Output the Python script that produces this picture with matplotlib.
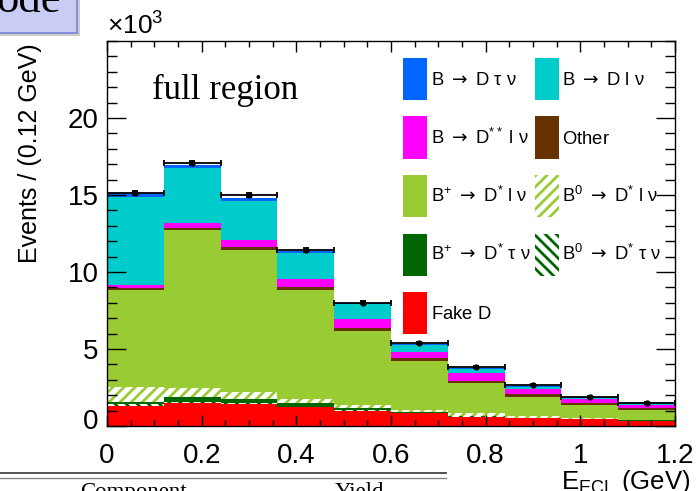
import numpy as np
import matplotlib
matplotlib.use("Agg")
import matplotlib.pyplot as plt
from matplotlib.patches import Rectangle
from matplotlib.lines import Line2D
from matplotlib.transforms import ScaledTranslation

plt.rcParams["font.family"] = ["Liberation Sans", "DejaVu Sans"]
plt.rcParams["mathtext.fontset"] = "custom"
plt.rcParams["mathtext.rm"] = "Liberation Sans"
plt.rcParams["mathtext.it"] = "Liberation Sans:italic"
plt.rcParams["mathtext.bf"] = "Liberation Sans:bold"
plt.rcParams["mathtext.sf"] = "DejaVu Sans"
plt.rcParams["hatch.linewidth"] = 2.0

# E_ECL binning: 10 bins of 0.12 GeV, yields in units of 10^3 events
edges = np.linspace(0.0, 1.2, 11)

fake_d = [1.32, 1.51, 1.43, 1.21, 1.00, 0.82, 0.60, 0.50, 0.43, 0.34]
b0_dstau = [0.08, 0.06, 0.06, 0.05, 0.04, 0.03, 0.02, 0.02, 0.01, 0.01]
bp_dstau = [0.16, 0.33, 0.28, 0.25, 0.10, 0.05, 0.04, 0.02, 0.01, 0.01]
b0_dslnu = [0.99, 0.55, 0.42, 0.24, 0.24, 0.14, 0.16, 0.08, 0.05, 0.04]
bp_dslnu = [6.28, 10.28, 9.21, 7.06, 4.81, 3.20, 1.95, 1.28, 0.86, 0.64]
other = [0.15, 0.15, 0.22, 0.19, 0.19, 0.15, 0.17, 0.16, 0.11, 0.11]
dss_lnu = [0.20, 0.32, 0.46, 0.53, 0.57, 0.43, 0.52, 0.32, 0.26, 0.21]
d_lnu = [5.67, 3.53, 2.55, 1.68, 0.95, 0.44, 0.22, 0.17, 0.11, 0.15]
d_taunu = [0.25, 0.25, 0.16, 0.13, 0.07, 0.07, 0.09, 0.05, 0.03, 0.03]

data = [15.13, 17.05, 15.02, 11.43, 8.00, 5.41, 3.81, 2.69, 1.89, 1.50]
data_err = [0.12, 0.13, 0.12, 0.11, 0.09, 0.07, 0.06, 0.05, 0.04, 0.04]

TO = r"\ \mathsf{\rightarrow}\ "
# stack order, bottom to top: (values, label, colour, hatch)
stack = [
    (fake_d, r"$\mathrm{Fake\ D}$", "#ff0000", None),
    (b0_dstau, r"$\mathrm{B}^{0}" + TO + r"\mathrm{D}^{*}\ \mathrm{τ}\ \mathrm{ν}$", "#006600", "\\\\\\"),
    (bp_dstau, r"$\mathrm{B}^{+}" + TO + r"\mathrm{D}^{*}\ \mathrm{τ}\ \mathrm{ν}$", "#006600", None),
    (b0_dslnu, r"$\mathrm{B}^{0}" + TO + r"\mathrm{D}^{*}\ \mathrm{l}\ \mathrm{ν}$", "#99cc33", "///"),
    (bp_dslnu, r"$\mathrm{B}^{+}" + TO + r"\mathrm{D}^{*}\ \mathrm{l}\ \mathrm{ν}$", "#99cc33", None),
    (other, r"$\mathrm{Other}$", "#663300", None),
    (dss_lnu, r"$\mathrm{B}" + TO + r"\mathrm{D}^{**}\ \mathrm{l}\ \mathrm{ν}$", "#ff00ff", None),
    (d_lnu, r"$\mathrm{B}" + TO + r"\mathrm{D}\ \mathrm{l}\ \mathrm{ν}$", "#00cccc", None),
    (d_taunu, r"$\mathrm{B}" + TO + r"\mathrm{D}\ \mathrm{τ}\ \mathrm{ν}$", "#0066ff", None),
]

fig = plt.figure(figsize=(6.98, 4.91), dpi=100)
W, H = 698.0, 491.0
ax = fig.add_axes([107 / W, 1 - 426 / H, 568 / W, 385 / H])

bottom = np.zeros(len(edges) - 1)
for vals, label, col, hatch in stack:
    vals = np.asarray(vals)
    if hatch:
        ax.bar(edges[:-1], vals, width=0.12, align="edge", bottom=bottom,
               facecolor="white", edgecolor=col, hatch=hatch, linewidth=0)
    else:
        ax.bar(edges[:-1], vals, width=0.12, align="edge", bottom=bottom,
               color=col, linewidth=0)
    bottom = bottom + vals

centers = 0.5 * (edges[:-1] + edges[1:])
ax.errorbar(centers, data, xerr=0.06, yerr=data_err, fmt="o", ms=3.5,
            color="black", ecolor="black", elinewidth=1.3, capsize=2.5,
            capthick=1.3, zorder=5)

ax.set_xlim(0, 1.2)
ax.set_ylim(0, 25)
ax.set_xticks(np.arange(0, 1.21, 0.2))
ax.set_xticklabels(["0", "0.2", "0.4", "0.6", "0.8", "1", "1.2"])
ax.set_xticks(np.arange(0, 1.201, 0.05), minor=True)
ax.set_yticks([0, 5, 10, 15, 20])
ax.set_yticks(np.arange(0, 25.1, 1), minor=True)
ax.tick_params(axis="both", which="both", direction="in", top=True, right=True,
               labelsize=20, width=1.0, color="black")
ax.tick_params(axis="x", which="major", length=8, pad=12)
ax.tick_params(axis="x", which="minor", length=4)
ax.tick_params(axis="y", which="major", length=14, pad=6)
ax.tick_params(axis="y", which="minor", length=7)
for s in ax.spines.values():
    s.set_linewidth(1.0)
# the "0" on the y axis sits a little above the axis line
lab0 = ax.get_yticklabels()[0]
lab0.set_transform(lab0.get_transform() + ScaledTranslation(0, 0.07, fig.dpi_scale_trans))


def px(x, y):
    """pixel position in the figure -> axes fraction"""
    return (x - 107) / 568, (426 - y) / 385


# two-column key with tall boxes
key_cols = [
    [stack[8], stack[6], stack[4], stack[2], stack[0]],
    [stack[7], stack[5], stack[3], stack[1]],
]
for (bx, tx), entries in zip([(403, 431), (535, 562)], key_cols):
    for i, (_, label, col, hatch) in enumerate(entries):
        top = 58 + 58.5 * i
        x0, y0 = px(bx, top + 42)
        w, h = 24 / 568, 42 / 385
        if hatch:
            r = Rectangle((x0, y0), w, h, transform=ax.transAxes, facecolor="white",
                          edgecolor=col, hatch=hatch, linewidth=0)
        else:
            r = Rectangle((x0, y0), w, h, transform=ax.transAxes, facecolor=col,
                          linewidth=0)
        ax.add_patch(r)
        lx, ly = px(tx, top + 27)
        ax.text(lx, ly, label, transform=ax.transAxes, fontsize=13.3,
                ha="left", va="baseline")

fx, fy = px(152, 99)
ax.text(fx, fy, "full region", transform=ax.transAxes,
        family="Liberation Serif", fontsize=25, va="baseline", ha="left")

fig.text(107 / W, 1 - 35 / H, r"$\times10^{3}$", fontsize=19,
         ha="left", va="baseline")
fig.text(30 / W, 1 - 43 / H, "Events / (0.12 GeV)", rotation=90,
         fontsize=18, ha="center", va="top")
fig.text(690 / W, 1 - 489 / H, r"E$_{\rm ECL}$ (GeV)", fontsize=18.5,
         ha="right", va="baseline")

# slide title box peeking in at the top-left corner
fig.patches.append(Rectangle((-7 / W, 1 - 36 / H), 87 / W, 40 / H,
                             transform=fig.transFigure, facecolor="#9a9a9a",
                             alpha=0.5, edgecolor="none", zorder=1))
fig.patches.append(Rectangle((-10 / W, 1 - 33 / H), 87 / W, 40 / H,
                             transform=fig.transFigure, facecolor="#c9cdf6",
                             edgecolor="#7784d4", linewidth=1.2, zorder=2))
fig.text(-4 / W, 1 - 12 / H, "ode", family="Liberation Serif", fontsize=32,
         ha="left", va="baseline", zorder=3)

# top rule of the yield table below the plot
fig.add_artist(Line2D([0, 446 / W], [1 - 473 / H] * 2, transform=fig.transFigure,
                      color="#555555", lw=1.4))
fig.add_artist(Line2D([0, 446 / W], [1 - 477.5 / H] * 2, transform=fig.transFigure,
                      color="#888888", lw=1.0))
fig.text(80 / W, 1 - 482 / H, "Component", family="Liberation Serif",
         fontsize=16.5, ha="left", va="top")
fig.text(335 / W, 1 - 482 / H, "Yield", family="Liberation Serif",
         fontsize=16.5, ha="left", va="top")

fig.savefig("out.png", dpi=100)
